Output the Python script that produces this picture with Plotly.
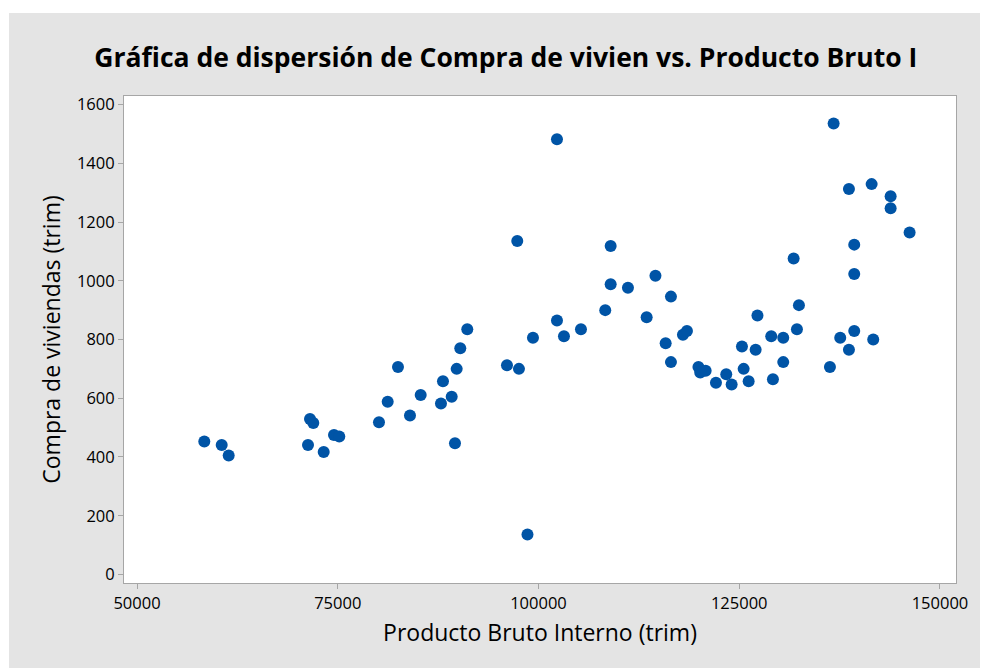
import plotly.graph_objects as go

# Producto Bruto Interno (trim) vs Compra de viviendas (trim)
pbi = [58381, 60548, 61419, 71295, 71544, 71955, 73250, 74532, 75192, 80136,
       81220, 82502, 83997, 85329, 88106, 87857, 89190, 89601, 89812, 90261,
       91132, 96076, 97359, 97570, 98629, 99314, 102303, 102303, 103174, 105291,
       108317, 108990, 108990, 111144, 113473, 114569, 115839, 116499, 116499, 117993,
       118492, 119924, 120148, 120820, 122103, 123386, 124058, 125341, 125552, 126175,
       127047, 127271, 128989, 129201, 130484, 130484, 131779, 132190, 132439, 136299,
       136760, 137582, 138665, 138665, 139325, 139325, 139325, 141492, 141691, 143858,
       143858, 146224]
compra = [453, 441, 405, 441, 529, 516, 417, 475, 470, 518,
          588, 706, 541, 611, 658, 582, 605, 447, 700, 770,
          835, 712, 1135, 700, 136, 806, 1482, 865, 811, 835,
          900, 1118, 988, 976, 876, 1017, 787, 946, 723, 816,
          829, 706, 688, 694, 653, 682, 647, 776, 700, 658,
          765, 882, 811, 665, 806, 723, 1076, 835, 917, 706,
          1535, 806, 1312, 765, 1123, 1023, 829, 1329, 800, 1288,
          1247, 1164]

x_ticks = [50000, 75000, 100000, 125000, 150000]
y_ticks = [0, 200, 400, 600, 800, 1000, 1200, 1400, 1600]

fnt = "Open Sans"
gris = "#e4e4e4"

fig = go.Figure(go.Scatter(
    x=pbi, y=compra, mode="markers",
    marker=dict(color="#0054a6", size=12, line=dict(width=0)),
    hoverinfo="x+y"))

# the page body adds 8px, so the figure is 980x660
fig.update_layout(
    width=980, height=660,
    margin=dict(l=116, r=32, t=88, b=85),
    paper_bgcolor=gris, plot_bgcolor="white",
    showlegend=False,
    font=dict(family=fnt, color="black"),
    title=dict(text="<b>Gráfica de dispersión de Compra de vivien vs. Producto Bruto I</b>",
               font=dict(size=26.5, family=fnt, color="black"),
               x=0.508, xanchor="center", y=0.924, yanchor="middle"),
    shapes=[
        # thin white strips along top and left edge
        dict(type="rect", xref="paper", yref="paper", x0=-0.16, x1=1.05, y0=1.1704, y1=1.21,
             fillcolor="white", line=dict(width=0), layer="above"),
        dict(type="rect", xref="paper", yref="paper", x0=-0.16, x1=-0.1382, y0=-0.2, y1=1.21,
             fillcolor="white", line=dict(width=0), layer="above"),
    ],
)

fig.update_xaxes(
    range=[48380, 152000], tickvals=x_ticks, ticktext=[str(v) for v in x_ticks],
    showgrid=False, zeroline=False,
    showline=True, mirror=True, linecolor="#a6a6a6", linewidth=1,
    ticks="outside", ticklen=5, tickcolor="#a6a6a6",
    tickfont=dict(size=16.5, family=fnt, color="black"),
    title=dict(text="Producto Bruto Interno (trim)", font=dict(size=23, family=fnt, color="black"),
               standoff=12))

fig.update_yaxes(
    range=[-29, 1629], tickvals=y_ticks, ticktext=[str(v) for v in y_ticks],
    showgrid=False, zeroline=False,
    showline=True, mirror=True, linecolor="#a6a6a6", linewidth=1,
    ticks="outside", ticklen=5, tickcolor="#a6a6a6",
    tickfont=dict(size=16.5, family=fnt, color="black"),
    title=dict(text="Compra de viviendas (trim)", font=dict(size=23, family=fnt, color="black"),
               standoff=9))

fig.write_html("out.html")
